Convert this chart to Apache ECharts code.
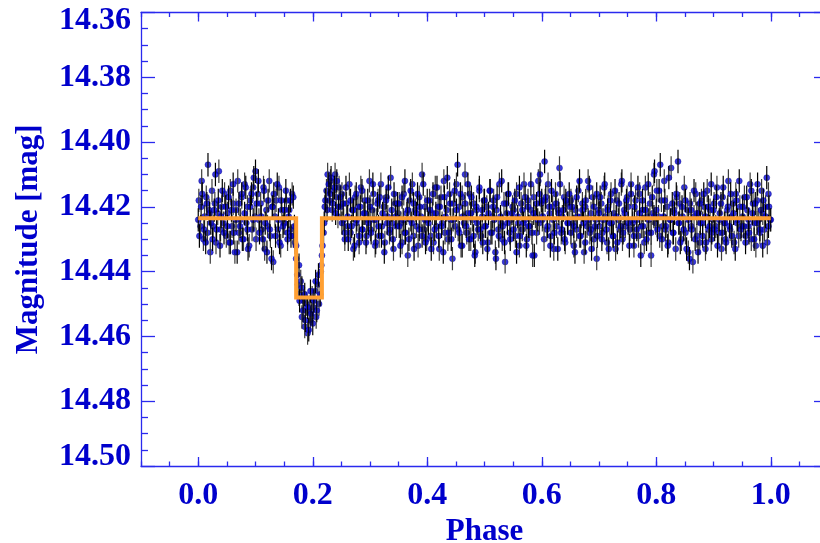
<!DOCTYPE html>
<html><head><meta charset="utf-8">
<script src="https://cdn.jsdelivr.net/npm/echarts@6/dist/echarts.min.js"></script>
<style>html,body{margin:0;padding:0;background:#fff}#c{width:820px;height:543px}</style>
</head><body><div id="c"></div>
<script>
// Set A of observations
var phaseA = [
0.000,0.002,0.005,0.007,0.010,0.013,0.015,0.017,0.020,0.022,0.025,0.028,0.030,0.032,0.035,0.038,0.040,0.042,0.045,0.048,
0.051,0.053,0.056,0.058,0.061,0.062,0.066,0.068,0.071,0.073,0.076,0.077,0.081,0.083,0.086,0.087,0.091,0.093,0.096,0.097,
0.100,0.102,0.105,0.107,0.110,0.113,0.115,0.117,0.120,0.122,0.125,0.128,0.130,0.132,0.135,0.138,0.140,0.142,0.145,0.148,
0.151,0.153,0.156,0.158,0.161,0.162,0.166,0.168,0.171,0.173,0.176,0.177,0.181,0.183,0.186,0.187,0.191,0.193,0.196,0.197,
0.200,0.202,0.205,0.207,0.210,0.213,0.215,0.217,0.220,0.222,0.225,0.228,0.230,0.232,0.235,0.238,0.240,0.242,0.245,0.248,
0.251,0.253,0.256,0.258,0.261,0.262,0.266,0.268,0.271,0.273,0.276,0.277,0.281,0.283,0.286,0.287,0.291,0.293,0.296,0.297,
0.300,0.302,0.305,0.307,0.310,0.313,0.315,0.317,0.320,0.322,0.325,0.328,0.330,0.332,0.335,0.338,0.340,0.342,0.345,0.348,
0.351,0.353,0.356,0.358,0.361,0.362,0.366,0.368,0.371,0.373,0.376,0.377,0.381,0.383,0.386,0.387,0.391,0.393,0.396,0.397,
0.400,0.402,0.405,0.407,0.410,0.413,0.415,0.417,0.420,0.422,0.425,0.428,0.430,0.432,0.435,0.438,0.440,0.442,0.445,0.448,
0.451,0.453,0.456,0.458,0.461,0.462,0.466,0.468,0.471,0.473,0.476,0.477,0.481,0.483,0.486,0.487,0.491,0.493,0.496,0.497,
0.500,0.502,0.505,0.507,0.510,0.513,0.515,0.517,0.520,0.522,0.525,0.528,0.530,0.532,0.535,0.538,0.540,0.542,0.545,0.548,
0.551,0.553,0.556,0.558,0.561,0.562,0.566,0.568,0.571,0.573,0.576,0.577,0.581,0.583,0.586,0.587,0.591,0.593,0.596,0.597,
0.600,0.602,0.605,0.607,0.610,0.613,0.615,0.617,0.620,0.622,0.625,0.628,0.630,0.632,0.635,0.638,0.640,0.642,0.645,0.648,
0.651,0.653,0.656,0.658,0.661,0.662,0.666,0.668,0.671,0.673,0.676,0.677,0.681,0.683,0.686,0.687,0.691,0.693,0.696,0.697,
0.700,0.702,0.705,0.707,0.710,0.713,0.715,0.717,0.720,0.722,0.725,0.728,0.730,0.732,0.735,0.738,0.740,0.742,0.745,0.748,
0.751,0.753,0.756,0.758,0.761,0.762,0.766,0.768,0.771,0.773,0.776,0.777,0.781,0.783,0.786,0.787,0.791,0.793,0.796,0.797,
0.800,0.802,0.805,0.807,0.810,0.813,0.815,0.817,0.820,0.822,0.825,0.828,0.830,0.832,0.835,0.838,0.840,0.842,0.845,0.848,
0.851,0.853,0.856,0.858,0.861,0.862,0.866,0.868,0.871,0.873,0.876,0.877,0.881,0.883,0.886,0.887,0.891,0.893,0.896,0.897,
0.900,0.902,0.905,0.907,0.910,0.913,0.915,0.917,0.920,0.922,0.925,0.928,0.930,0.932,0.935,0.938,0.940,0.942,0.945,0.948,
0.951,0.953,0.956,0.958,0.961,0.962,0.966,0.968,0.971,0.973,0.976,0.977,0.981,0.983,0.986,0.987,0.991,0.993,0.996,0.997,1.000
];
var magA = [
14.424,14.429,14.420,14.416,14.427,14.431,14.419,14.407,14.422,14.425,14.430,14.421,14.410,14.427,14.418,14.432,14.423,14.415,14.428,14.420,
14.426,14.417,14.431,14.421,14.413,14.428,14.424,14.434,14.419,14.426,14.416,14.430,14.422,14.414,14.427,14.433,14.420,14.416,14.424,14.411,
14.409,14.419,14.412,14.428,14.423,14.430,14.415,14.425,14.434,14.418,14.427,14.436,14.420,14.416,14.429,14.413,14.424,14.431,14.418,14.426,
14.421,14.415,14.428,14.423,14.418,14.429,14.417,14.426,14.432,14.441,14.438,14.449,14.445,14.452,14.447,14.455,14.451,14.458,14.446,14.453,
14.456,14.449,14.443,14.452,14.441,14.447,14.438,14.432,14.425,14.418,14.421,14.413,14.416,14.411,14.419,14.414,14.422,14.412,14.420,14.417,
14.425,14.419,14.428,14.414,14.423,14.430,14.418,14.426,14.421,14.432,14.416,14.424,14.429,14.420,14.415,14.427,14.422,14.431,14.418,14.425,
14.420,14.428,14.413,14.424,14.431,14.419,14.426,14.417,14.429,14.422,14.434,14.418,14.425,14.414,14.427,14.421,14.430,14.416,14.423,14.419,
14.426,14.432,14.417,14.424,14.412,14.428,14.421,14.430,14.415,14.425,14.419,14.433,14.422,14.416,14.427,14.420,14.429,14.413,14.424,14.431,
14.418,14.425,14.421,14.433,14.416,14.427,14.422,14.414,14.429,14.420,14.426,14.434,14.417,14.423,14.411,14.428,14.419,14.430,14.424,14.415,
14.421,14.407,14.428,14.416,14.432,14.423,14.419,14.426,14.413,14.430,14.422,14.417,14.429,14.435,14.420,14.425,14.414,14.427,14.421,14.431,
14.418,14.426,14.433,14.422,14.415,14.428,14.420,14.424,14.436,14.417,14.429,14.423,14.412,14.426,14.431,14.419,14.425,14.416,14.430,14.422,
14.427,14.418,14.434,14.423,14.414,14.429,14.421,14.425,14.417,14.432,14.420,14.426,14.413,14.428,14.422,14.435,14.419,14.424,14.416,14.410,
14.418,14.423,14.406,14.417,14.426,14.420,14.432,14.415,14.424,14.428,14.419,14.433,14.422,14.413,14.427,14.421,14.430,14.418,14.425,14.416,
14.428,14.420,14.426,14.434,14.417,14.423,14.412,14.429,14.421,14.425,14.431,14.418,14.424,14.414,14.427,14.433,14.420,14.426,14.416,14.429,
14.422,14.417,14.430,14.424,14.413,14.427,14.421,14.433,14.418,14.425,14.429,14.415,14.423,14.431,14.419,14.426,14.412,14.428,14.422,14.418,
14.425,14.432,14.416,14.424,14.429,14.420,14.427,14.414,14.422,14.435,14.418,14.426,14.421,14.430,14.413,14.424,14.428,14.417,14.423,14.409,
14.421,14.427,14.415,14.407,14.430,14.423,14.418,14.426,14.432,14.411,14.424,14.419,14.428,14.422,14.416,14.406,14.425,14.431,14.420,14.427,
14.418,14.433,14.424,14.436,14.421,14.427,14.415,14.430,14.422,14.434,14.419,14.425,14.429,14.416,14.423,14.431,14.420,14.426,14.413,14.428,
14.421,14.427,14.417,14.432,14.424,14.419,14.428,14.414,14.425,14.431,14.420,14.426,14.416,14.429,14.422,14.433,14.418,14.424,14.412,14.427,
14.420,14.426,14.431,14.417,14.424,14.428,14.415,14.422,14.430,14.419,14.425,14.413,14.427,14.421,14.432,14.418,14.423,14.411,14.426,14.420,14.424
];
// Set B of observations
var phaseB = [
0.001,0.004,0.006,0.009,0.011,0.014,0.016,0.019,0.021,0.024,0.026,0.029,0.031,0.034,0.036,0.039,0.041,0.044,0.046,0.049,
0.051,0.054,0.056,0.059,0.061,0.064,0.066,0.069,0.071,0.074,0.076,0.079,0.081,0.084,0.086,0.089,0.091,0.094,0.096,0.099,
0.101,0.104,0.106,0.109,0.111,0.114,0.116,0.119,0.121,0.124,0.126,0.129,0.131,0.134,0.136,0.139,0.141,0.144,0.146,0.149,
0.151,0.154,0.156,0.159,0.161,0.164,0.166,0.169,0.171,0.174,0.176,0.179,0.181,0.184,0.186,0.189,0.191,0.194,0.196,0.199,
0.201,0.204,0.206,0.209,0.211,0.214,0.216,0.219,0.221,0.224,0.226,0.229,0.231,0.234,0.236,0.239,0.241,0.244,0.246,0.249,
0.251,0.254,0.256,0.259,0.261,0.264,0.266,0.269,0.271,0.274,0.276,0.279,0.281,0.284,0.286,0.289,0.291,0.294,0.296,0.299,
0.301,0.304,0.306,0.309,0.311,0.314,0.316,0.319,0.321,0.324,0.326,0.329,0.331,0.334,0.336,0.339,0.341,0.344,0.346,0.349,
0.351,0.354,0.356,0.359,0.361,0.364,0.366,0.369,0.371,0.374,0.376,0.379,0.381,0.384,0.386,0.389,0.391,0.394,0.396,0.399,
0.401,0.404,0.406,0.409,0.411,0.414,0.416,0.419,0.421,0.424,0.426,0.429,0.431,0.434,0.436,0.439,0.441,0.444,0.446,0.449,
0.451,0.454,0.456,0.459,0.461,0.464,0.466,0.469,0.471,0.474,0.476,0.479,0.481,0.484,0.486,0.489,0.491,0.494,0.496,0.499,
0.501,0.504,0.506,0.509,0.511,0.514,0.516,0.519,0.521,0.524,0.526,0.529,0.531,0.534,0.536,0.539,0.541,0.544,0.546,0.549,
0.551,0.554,0.556,0.559,0.561,0.564,0.566,0.569,0.571,0.574,0.576,0.579,0.581,0.584,0.586,0.589,0.591,0.594,0.596,0.599,
0.601,0.604,0.606,0.609,0.611,0.614,0.616,0.619,0.621,0.624,0.626,0.629,0.631,0.634,0.636,0.639,0.641,0.644,0.646,0.649,
0.651,0.654,0.656,0.659,0.661,0.664,0.666,0.669,0.671,0.674,0.676,0.679,0.681,0.684,0.686,0.689,0.691,0.694,0.696,0.699,
0.701,0.704,0.706,0.709,0.711,0.714,0.716,0.719,0.721,0.724,0.726,0.729,0.731,0.734,0.736,0.739,0.741,0.744,0.746,0.749,
0.751,0.754,0.756,0.759,0.761,0.764,0.766,0.769,0.771,0.774,0.776,0.779,0.781,0.784,0.786,0.789,0.791,0.794,0.796,0.799,
0.801,0.804,0.806,0.809,0.811,0.814,0.816,0.819,0.821,0.824,0.826,0.829,0.831,0.834,0.836,0.839,0.841,0.844,0.846,0.849,
0.851,0.854,0.856,0.859,0.861,0.864,0.866,0.869,0.871,0.874,0.876,0.879,0.881,0.884,0.886,0.889,0.891,0.894,0.896,0.899,
0.901,0.904,0.906,0.909,0.911,0.914,0.916,0.919,0.921,0.924,0.926,0.929,0.931,0.934,0.936,0.939,0.941,0.944,0.946,0.949,
0.951,0.954,0.956,0.959,0.961,0.964,0.966,0.969,0.971,0.974,0.976,0.979,0.981,0.984,0.986,0.989,0.991,0.994,0.996,0.999
];
var magB = [
14.418,14.426,14.412,14.430,14.423,14.417,14.428,14.421,14.434,14.415,14.426,14.419,14.431,14.422,14.409,14.427,14.420,14.425,14.416,14.429,
14.422,14.431,14.415,14.426,14.419,14.434,14.421,14.412,14.428,14.424,14.417,14.430,14.413,14.425,14.420,14.432,14.418,14.427,14.414,14.423,
14.430,14.416,14.424,14.419,14.427,14.414,14.433,14.421,14.426,14.412,14.429,14.420,14.437,14.423,14.418,14.427,14.414,14.432,14.421,14.425,
14.425,14.418,14.430,14.421,14.427,14.416,14.429,14.431,14.436,14.444,14.447,14.443,14.454,14.449,14.457,14.450,14.459,14.452,14.455,14.448,
14.451,14.446,14.454,14.444,14.450,14.440,14.435,14.428,14.420,14.415,14.410,14.418,14.412,14.421,14.415,14.410,14.417,14.423,14.414,14.420,
14.416,14.424,14.430,14.419,14.426,14.413,14.428,14.421,14.433,14.417,14.425,14.420,14.431,14.414,14.427,14.422,14.418,14.429,14.424,14.412,
14.427,14.421,14.416,14.432,14.424,14.418,14.429,14.413,14.426,14.420,14.431,14.417,14.423,14.428,14.411,14.425,14.433,14.419,14.426,14.422,
14.419,14.425,14.431,14.416,14.428,14.422,14.435,14.418,14.424,14.413,14.429,14.421,14.426,14.432,14.417,14.423,14.410,14.427,14.420,14.430,
14.424,14.418,14.429,14.422,14.431,14.414,14.426,14.420,14.433,14.417,14.425,14.412,14.428,14.421,14.430,14.416,14.424,14.436,14.419,14.426,
14.413,14.427,14.420,14.432,14.417,14.425,14.410,14.428,14.422,14.416,14.430,14.424,14.419,14.434,14.421,14.427,14.415,14.429,14.423,14.418,
14.426,14.420,14.431,14.415,14.428,14.423,14.418,14.434,14.421,14.427,14.413,14.425,14.430,14.419,14.437,14.422,14.416,14.428,14.424,14.420,
14.421,14.429,14.416,14.425,14.432,14.419,14.427,14.413,14.424,14.430,14.418,14.426,14.421,14.435,14.417,14.423,14.428,14.412,14.425,14.419,
14.424,14.430,14.418,14.427,14.413,14.422,14.429,14.420,14.433,14.416,14.426,14.421,14.408,14.428,14.423,14.417,14.431,14.419,14.425,14.420,
14.418,14.425,14.432,14.421,14.427,14.415,14.429,14.423,14.419,14.434,14.420,14.426,14.412,14.428,14.422,14.417,14.430,14.424,14.436,14.421,
14.426,14.419,14.428,14.414,14.423,14.431,14.420,14.425,14.416,14.429,14.422,14.433,14.418,14.424,14.427,14.413,14.430,14.421,14.426,14.417,
14.420,14.427,14.413,14.425,14.432,14.418,14.424,14.429,14.416,14.426,14.421,14.431,14.414,14.423,14.428,14.419,14.435,14.422,14.410,14.425,
14.415,14.423,14.429,14.418,14.426,14.412,14.427,14.420,14.431,14.424,14.408,14.428,14.421,14.433,14.417,14.425,14.419,14.430,14.423,14.414,
14.428,14.421,14.434,14.419,14.426,14.437,14.423,14.416,14.429,14.422,14.431,14.418,14.425,14.420,14.433,14.415,14.427,14.421,14.430,14.424,
14.419,14.426,14.414,14.428,14.422,14.433,14.417,14.425,14.430,14.421,14.412,14.427,14.423,14.419,14.431,14.416,14.425,14.429,14.420,14.426,
14.423,14.417,14.429,14.421,14.426,14.413,14.430,14.419,14.425,14.432,14.418,14.424,14.428,14.415,14.422,14.427,14.420,14.431,14.416,14.424
];
var magError = 0.0036;
var modelPhase = [0.000, 0.171, 0.171, 0.216, 0.216, 1.000];
var modelMag   = [14.4235, 14.4235, 14.448, 14.448, 14.4235, 14.4235];
var xMajorTicks = [0.0, 0.2, 0.4, 0.6, 0.8, 1.0];
var yMin = 14.36, yMax = 14.50;

var BLUE_TEXT = '#0000cc', AXIS = '#2a2aee';
var FONT = 'Liberation Serif';

function toPts(ph, mg) { return ph.map(function (p, i) { return [p, mg[i], magError]; }); }
var ptsA = toPts(phaseA, magA);
var ptsB = toPts(phaseB, magB);
var model = modelPhase.map(function (p, i) { return [p, modelMag[i]]; });

var chart = echarts.init(document.getElementById('c'), null, {renderer: 'canvas'});
function xAx(pos, major, show) {
  var o = {
    type: 'value', position: pos, min: -0.1, max: 1.1,
    axisLine: {show: show, onZero: false, lineStyle: {color: AXIS, width: 1.3}},
    splitLine: {show: false},
    axisTick: {show: true, inside: true, length: major ? 9 : 4.5, lineStyle: {color: AXIS, width: 1.3}},
    axisLabel: {show: false}
  };
  if (major) { o.axisTick.customValues = xMajorTicks; } else { o.interval = 0.05; }
  return o;
}
var xAxes = [xAx('bottom', true, true), xAx('top', true, true), xAx('bottom', false, false), xAx('top', false, false)];
xAxes[0].axisLabel = {
  show: true, customValues: xMajorTicks, margin: 14,
  color: BLUE_TEXT, fontFamily: FONT, fontWeight: 'bold', fontSize: 32,
  formatter: function (v) { return v.toFixed(1); }
};
xAxes[0].name = 'Phase';
xAxes[0].nameLocation = 'middle';
xAxes[0].nameGap = 47;
xAxes[0].nameTextStyle = {color: BLUE_TEXT, fontFamily: FONT, fontWeight: 'bold', fontSize: 31};

var labStyle = {color: BLUE_TEXT, fontFamily: FONT, fontWeight: 'bold', fontSize: 32};
function yAx(pos, labels) {
  return {
    type: 'value', position: pos, inverse: true, min: yMin, max: yMax, interval: 0.02,
    axisLine: {show: true, onZero: false, lineStyle: {color: AXIS, width: 1.3}},
    splitLine: {show: false},
    axisTick: {show: true, inside: true, length: 14, lineStyle: {color: AXIS, width: 1.3}},
    minorTick: {show: true, splitNumber: 4, length: 7, lineStyle: {color: AXIS, width: 1.3}},
    axisLabel: labels ? {
      show: true, margin: 10, color: BLUE_TEXT, fontFamily: FONT, fontWeight: 'bold', fontSize: 32,
      formatter: function (v) {
        var s = v.toFixed(2);
        if (Math.abs(v - yMin) < 1e-6) return '{t|' + s + '}';
        if (Math.abs(v - yMax) < 1e-6) return '{b|' + s + '}';
        return s;
      },
      rich: {
        t: Object.assign({padding: [16, 0, 0, 0]}, labStyle),
        b: Object.assign({padding: [0, 0, 18, 0]}, labStyle)
      }
    } : {show: false},
    name: labels ? 'Magnitude [mag]' : '',
    nameLocation: 'middle', nameGap: 97,
    nameTextStyle: {color: BLUE_TEXT, fontFamily: FONT, fontWeight: 'bold', fontSize: 31}
  };
}

function errSeries(data, color, z) {
  return {
    type: 'custom', xAxisIndex: 0, yAxisIndex: 0, clip: true,
    renderItem: function (params, api) {
      var x = api.value(0), y = api.value(1), e = api.value(2);
      var a = api.coord([x, y - e]), b = api.coord([x, y + e]);
      return {type: 'line', shape: {x1: a[0], y1: a[1], x2: b[0], y2: b[1]},
              style: {stroke: color, lineWidth: 1.2}};
    },
    encode: {x: 0, y: [1]}, data: data, z: z
  };
}
function dotSeries(data, z) {
  return {
    type: 'scatter', xAxisIndex: 0, yAxisIndex: 0, symbol: 'circle', symbolSize: 6,
    itemStyle: {color: '#0505d8', borderColor: '#000080', borderWidth: 0.5},
    data: data.map(function (d) { return [d[0], d[1]]; }), z: z
  };
}

chart.setOption({
  animation: false,
  backgroundColor: '#ffffff',
  grid: {left: 141, top: 12.5, width: 687, bottom: 77, containLabel: false, outerBoundsMode: 'none'},
  xAxis: xAxes,
  yAxis: [yAx('left', true), yAx('right', false)],
  series: [
    dotSeries(ptsB, 2),
    errSeries(ptsB, '#3c3c3c', 3),
    dotSeries(ptsA, 4),
    errSeries(ptsA, '#000000', 5),
    {
      type: 'line', xAxisIndex: 0, yAxisIndex: 0, symbol: 'none',
      lineStyle: {color: '#ffa033', width: 4, join: 'miter'},
      data: model, z: 8
    }
  ]
});
</script></body></html>
